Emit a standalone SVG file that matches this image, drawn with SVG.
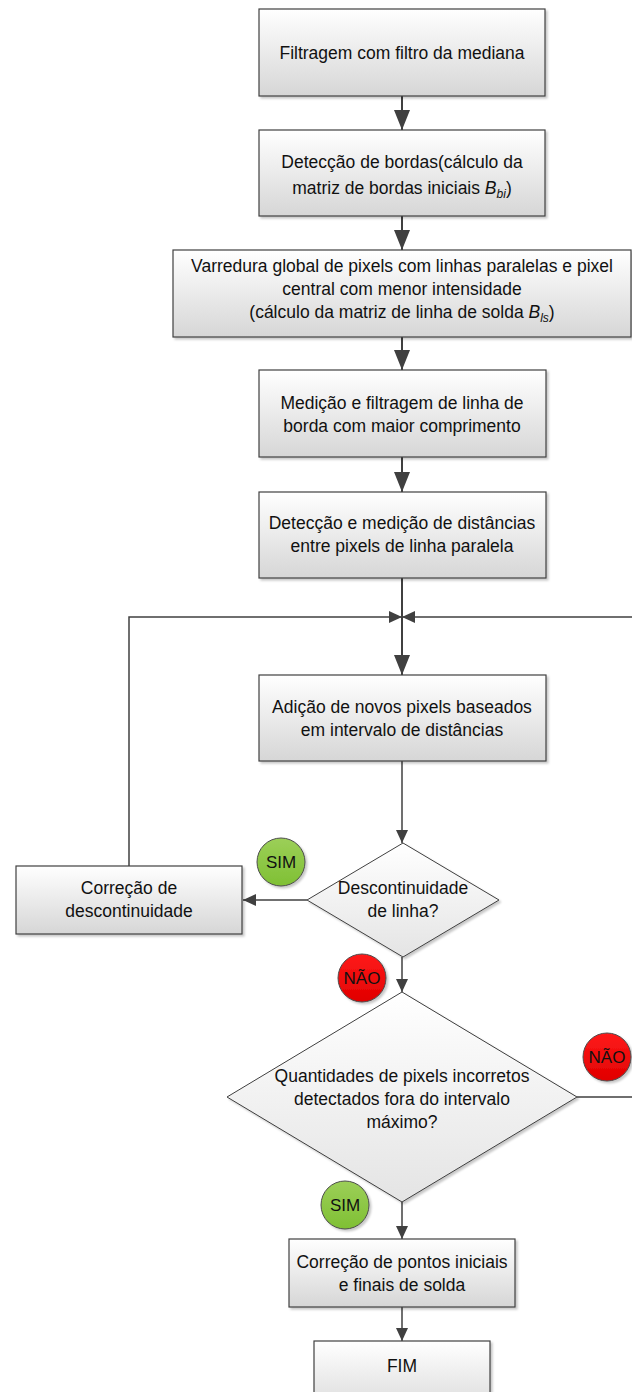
<svg xmlns="http://www.w3.org/2000/svg" width="632" height="1392" viewBox="0 0 632 1392">
<style>
.box{stroke:#404040;stroke-width:1.2;fill:url(#gBox);filter:url(#sh)}
.dia{stroke:#404040;stroke-width:1;fill:url(#gDia);filter:url(#sh)}
.t{font-family:"Liberation Sans",Arial,sans-serif;font-size:17.5px;fill:#111;text-anchor:middle}
.ct{font-family:"Liberation Sans",Arial,sans-serif;font-size:17px;fill:#111;text-anchor:middle}
.sub{font-size:12px;font-style:italic}
.it{font-style:italic}
.c{fill:none;stroke:#404040}
.thick{stroke-width:2}
.thin{stroke-width:1.5}
.big{marker-end:url(#aBig)}
.sm{marker-end:url(#aSm)}
.green{fill:url(#gGreen);stroke:#4d4d4d;stroke-width:1;filter:url(#sh)}
.red{fill:url(#gRed);stroke:#4d4d4d;stroke-width:1;filter:url(#sh)}
</style>
<defs>
<linearGradient id="gBox" x1="0" y1="0" x2="0" y2="1">
<stop offset="0" stop-color="#ffffff"/>
<stop offset="1" stop-color="#d6d6d6"/>
</linearGradient>
<linearGradient id="gDia" x1="0" y1="0" x2="0" y2="1">
<stop offset="0" stop-color="#ffffff"/>
<stop offset="1" stop-color="#e4e4e4"/>
</linearGradient>
<linearGradient id="gGreen" x1="0" y1="0" x2="0" y2="1">
<stop offset="0" stop-color="#9ccf58"/>
<stop offset="1" stop-color="#7fc034"/>
</linearGradient>
<linearGradient id="gRed" x1="0" y1="0" x2="0" y2="1">
<stop offset="0" stop-color="#ff1a1a"/>
<stop offset="1" stop-color="#e00000"/>
</linearGradient>
<filter id="sh" x="-10%" y="-10%" width="130%" height="130%">
<feDropShadow dx="2" dy="2" stdDeviation="1" flood-color="#000" flood-opacity="0.22"/>
</filter>
<marker id="aBig" markerUnits="userSpaceOnUse" markerWidth="20" markerHeight="16" refX="20" refY="8" orient="auto">
<path d="M0,0 L20,8 L0,16 Z" fill="#404040"/>
</marker>
<marker id="aSm" markerUnits="userSpaceOnUse" markerWidth="13" markerHeight="12" refX="13" refY="6" orient="auto">
<path d="M0,0 L13,6 L0,12 Z" fill="#404040"/>
</marker>
</defs>

<g id="connectors">
<path class="c thick big" d="M402,96 V130"/>
<path class="c thick big" d="M402,216 V250"/>
<path class="c thick big" d="M402,337 V370"/>
<path class="c thick big" d="M402,457 V492"/>
<path class="c thick big" d="M402,578 V675"/>
<path class="c thin sm" d="M129,866 V617 H402"/>
<path class="c thin sm" d="M577,1097 H645 V617 H402"/>
<path class="c thin sm" d="M402,761 V843"/>
<path class="c thin sm" d="M307,900 H243"/>
<path class="c thin sm" d="M402,957 V992"/>
<path class="c thin sm" d="M402,1202 V1239"/>
<path class="c thin sm" d="M402,1307 V1341"/>
</g>

<g id="n1">
<rect class="box" x="259" y="9" width="286" height="87"/>
<text class="t" x="402" y="59">Filtragem com filtro da mediana</text>
</g>
<g id="n2">
<rect class="box" x="259" y="130" width="286" height="86"/>
<text class="t" x="402" y="168">Detecção de bordas(cálculo da</text>
<text class="t" x="402" y="194">matriz de bordas iniciais <tspan class="it">B</tspan><tspan class="sub" dy="4">bi</tspan><tspan dy="-4">)</tspan></text>
</g>
<g id="n3">
<rect class="box" x="173" y="250" width="458" height="87"/>
<text class="t" x="402" y="272">Varredura global de pixels com linhas paralelas e pixel</text>
<text class="t" x="402" y="295">central com menor intensidade</text>
<text class="t" x="402" y="318">(cálculo da matriz de linha de solda <tspan class="it">B</tspan><tspan class="sub" dy="4">ls</tspan><tspan dy="-4">)</tspan></text>
</g>
<g id="n4">
<rect class="box" x="259" y="370" width="287" height="87"/>
<text class="t" x="402" y="409">Medição e filtragem de linha de</text>
<text class="t" x="402" y="432">borda com maior comprimento</text>
</g>
<g id="n5">
<rect class="box" x="259" y="492" width="287" height="86"/>
<text class="t" x="402" y="529">Detecção e medição de distâncias</text>
<text class="t" x="402" y="552">entre pixels de linha paralela</text>
</g>
<g id="n6">
<rect class="box" x="259" y="675" width="287" height="86"/>
<text class="t" x="402" y="713">Adição de novos pixels baseados</text>
<text class="t" x="402" y="736">em intervalo de distâncias</text>
</g>
<g id="n7">
<rect class="box" x="16" y="866" width="226" height="68"/>
<text class="t" x="129" y="894">Correção de</text>
<text class="t" x="129" y="917">descontinuidade</text>
</g>
<g id="d1">
<polygon class="dia" points="403,843 499,900 403,957 307,900"/>
<text class="t" x="403" y="894">Descontinuidade</text>
<text class="t" x="403" y="917">de linha?</text>
</g>
<g id="d2">
<polygon class="dia" points="402,992 577,1097 402,1202 227,1097"/>
<text class="t" x="402" y="1082">Quantidades de pixels incorretos</text>
<text class="t" x="402" y="1105">detectados fora do intervalo</text>
<text class="t" x="402" y="1128">máximo?</text>
</g>
<g id="n8">
<rect class="box" x="289" y="1239" width="226" height="68"/>
<text class="t" x="402" y="1268">Correção de pontos iniciais</text>
<text class="t" x="402" y="1291">e finais de solda</text>
</g>
<g id="n9">
<rect class="box" x="314" y="1341" width="176" height="80"/>
<text class="t" x="402" y="1372">FIM</text>
</g>

<g id="l1">
<circle class="green" cx="281" cy="862" r="24"/>
<text class="ct" x="281" y="868">SIM</text>
</g>
<g id="l2">
<circle class="red" cx="362" cy="978" r="24"/>
<text class="ct" x="362" y="984">NÃO</text>
</g>
<g id="l3">
<circle class="red" cx="607" cy="1057" r="24"/>
<text class="ct" x="607" y="1063">NÃO</text>
</g>
<g id="l4">
<circle class="green" cx="345" cy="1205" r="24"/>
<text class="ct" x="345" y="1211">SIM</text>
</g>
</svg>
